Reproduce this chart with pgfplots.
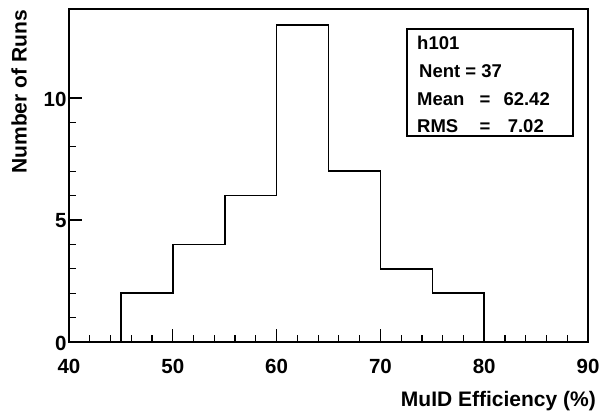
\documentclass[border=0pt]{standalone}
\usepackage{fontspec}
\setmainfont{Liberation Sans}
\usepackage{pgfplots}
\pgfplotsset{compat=1.18}
\begin{document}
\begin{tikzpicture}
\useasboundingbox (-69pt,-69pt) rectangle (532pt,342pt);
\begin{axis}[at={(0pt,0pt)}, anchor=south west, scale only axis,
  width=519pt, height=333pt,
  xmin=40, xmax=90, ymin=0, ymax=13.65,
  xtick={40,50,...,90}, ytick={0,5,10},
  minor x tick num=4, minor y tick num=4,
  tick align=inside, xtick pos=bottom, ytick pos=left,
  major tick length=13pt, minor tick length=7pt,
  axis line style={line width=1.4pt},
  tick style={line width=1.2pt, black},
  tick label style={font=\fontsize{20.5}{20.5}\selectfont\bfseries},
  xticklabel style={yshift=-14pt},
  yticklabel style={yshift=-1pt, xshift=1pt},
  /pgf/number format/assume math mode=true,
  clip=false]
\addplot[const plot, line width=1.6pt, black] coordinates {
  (45,0) (45,2) (50,4) (55,6) (60,13) (65,7) (70,3) (75,2) (80,2) (80,0)};
\end{axis}
\node[rotate=90, anchor=east, inner sep=0pt, font=\fontsize{21}{21}\selectfont\bfseries] at (-50pt,332pt) {Number of Runs};
\node[anchor=base east, inner sep=0pt, font=\fontsize{21}{21}\selectfont\bfseries] at (527pt,-65pt) {MuID Efficiency (\%)};
\draw[line width=1.8pt] (338pt,206pt) rectangle (504pt,313pt);
\begin{scope}[every node/.style={inner sep=0pt, font=\fontsize{18.5}{18.5}\selectfont\bfseries}]
\node[anchor=base west] at (348pt,292pt) {h101};
\node[anchor=base west] at (350pt,264pt) {Nent = 37};
\node[anchor=base west] at (348pt,236pt) {Mean};
\node[anchor=base] at (416pt,236pt) {=};
\node[anchor=base east] at (481pt,236pt) {62.42};
\node[anchor=base west] at (348pt,209pt) {RMS};
\node[anchor=base] at (416pt,209pt) {=};
\node[anchor=base east] at (475pt,209pt) {7.02};
\end{scope}
\end{tikzpicture}
\end{document}
